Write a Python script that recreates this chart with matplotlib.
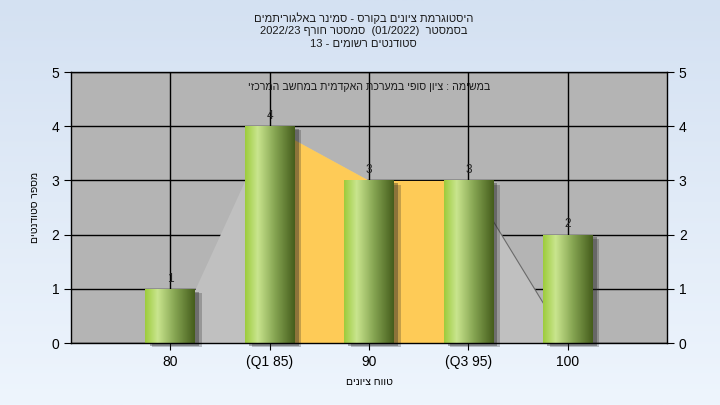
import re
import matplotlib
matplotlib.use("Agg")
import matplotlib.pyplot as plt
import matplotlib.patheffects as pe
import numpy as np
from matplotlib.colors import LinearSegmentedColormap

plt.rcParams['font.family'] = ['Liberation Sans', 'DejaVu Sans']

# data
categories = ['80', '(Q1 85)', '90', '(Q3 95)', '100']
counts = [1, 4, 3, 3, 2]
poly_vals = [0, 4, 3, 3, 0]   # background frequency polygon
iqr_from, iqr_to = 1, 3       # quartile band (category index)

title_lines = ['היסטוגרמת ציונים בקורס - סמינר באלגוריתמים',
               'בסמסטר  (01/2022)  סמסטר חורף 2022/23',
               'סטודנטים רשומים - 13']
subtitle = 'במשימה : ציון סופי במערכת האקדמית במחשב המרכזי'
xlabel = 'טווח ציונים'
ylabel = 'מספר סטודנטים'

LTR = re.compile(r'[A-Za-z0-9/.]+')
MIRROR = str.maketrans('()', ')(')


def vis(s):
    # matplotlib has no bidi: lay the line out right-to-left by hand
    r = s[::-1]
    r = LTR.sub(lambda m: m.group(0)[::-1], r)
    return r.translate(MIRROR)


fig = plt.figure(figsize=(7.2, 4.05), dpi=100)

# figure background gradient
bg = fig.add_axes([0, 0, 1, 1], zorder=-10)
bg_cmap = LinearSegmentedColormap.from_list('bg', ['#d4e1f2', '#eef5fd'])
bg.imshow(np.linspace(0, 1, 256).reshape(-1, 1), cmap=bg_cmap, aspect='auto',
          extent=[0, 1, 0, 1])
bg.axis('off')

ax = fig.add_axes([0.0986, 0.153, 0.8278, 0.669])
ax.set_facecolor('#b4b4b4')
x = np.arange(len(categories))

ax.grid(True, color='black', linewidth=1.0, zorder=0.5)
ax.set_axisbelow(True)

ax.fill_between(x, poly_vals, color='#c0c0c0', zorder=1, linewidth=0)
band = slice(iqr_from, iqr_to + 1)
ax.fill_between(x[band], np.array(poly_vals)[band], color='#fecb57', zorder=1.2,
                linewidth=0)
ax.plot(x[iqr_to:], poly_vals[iqr_to:], color='#6a6a6a', lw=0.8, zorder=1.3)

shadow = [pe.SimplePatchShadow(offset=(5, -3), shadow_rgbFace='#202020', alpha=0.25),
          pe.SimplePatchShadow(offset=(3, -2), shadow_rgbFace='#202020', alpha=0.35),
          pe.Normal()]
bars = ax.bar(x, counts, width=0.5, color='none', zorder=2, path_effects=shadow)
green = LinearSegmentedColormap.from_list('g', [(0, '#9dcc3c'), (0.25, '#c9e58e'),
                                                (0.6, '#86a552'), (1, '#455d1c')])
grad = np.linspace(0, 1, 128).reshape(1, -1)
for b in bars:
    b.set_clip_on(False)
    im = ax.imshow(grad, cmap=green, aspect='auto', zorder=2.1,
                   extent=[b.get_x(), b.get_x() + b.get_width(), 0, b.get_height()])
    im.set_clip_path(b)
ax.bar_label(bars, padding=3, fontsize=8.5, color='#222222')

ax.set_xlim(-1, 5)
ax.set_ylim(0, 5)
ax.set_xticks(x)
ax.set_xticklabels(categories, fontsize=10)
ax.set_yticks(range(6))
ax.tick_params(axis='y', labelsize=10, length=5, right=True, labelright=True,
               direction='out', color='black')
ax.tick_params(axis='x', length=5, color='black')
for s in ax.spines.values():
    s.set_color('black')
    s.set_linewidth(1)

ax.set_xlabel(vis(xlabel), fontsize=7.5, labelpad=6)
ax.set_ylabel(vis(ylabel), fontsize=7.5, rotation=90, labelpad=8)

ax.text(0.5, 0.945, vis(subtitle), transform=ax.transAxes, ha='center', va='center',
        fontsize=7.7, color='#1a1a1a', zorder=5)

for i, line in enumerate(title_lines):
    fig.text(0.505, 1 - (18 + 13 * i) / 405, vis(line), ha='center', va='center',
             fontsize=8, color='#1a1a1a')

fig.savefig('out.png', dpi=100)
